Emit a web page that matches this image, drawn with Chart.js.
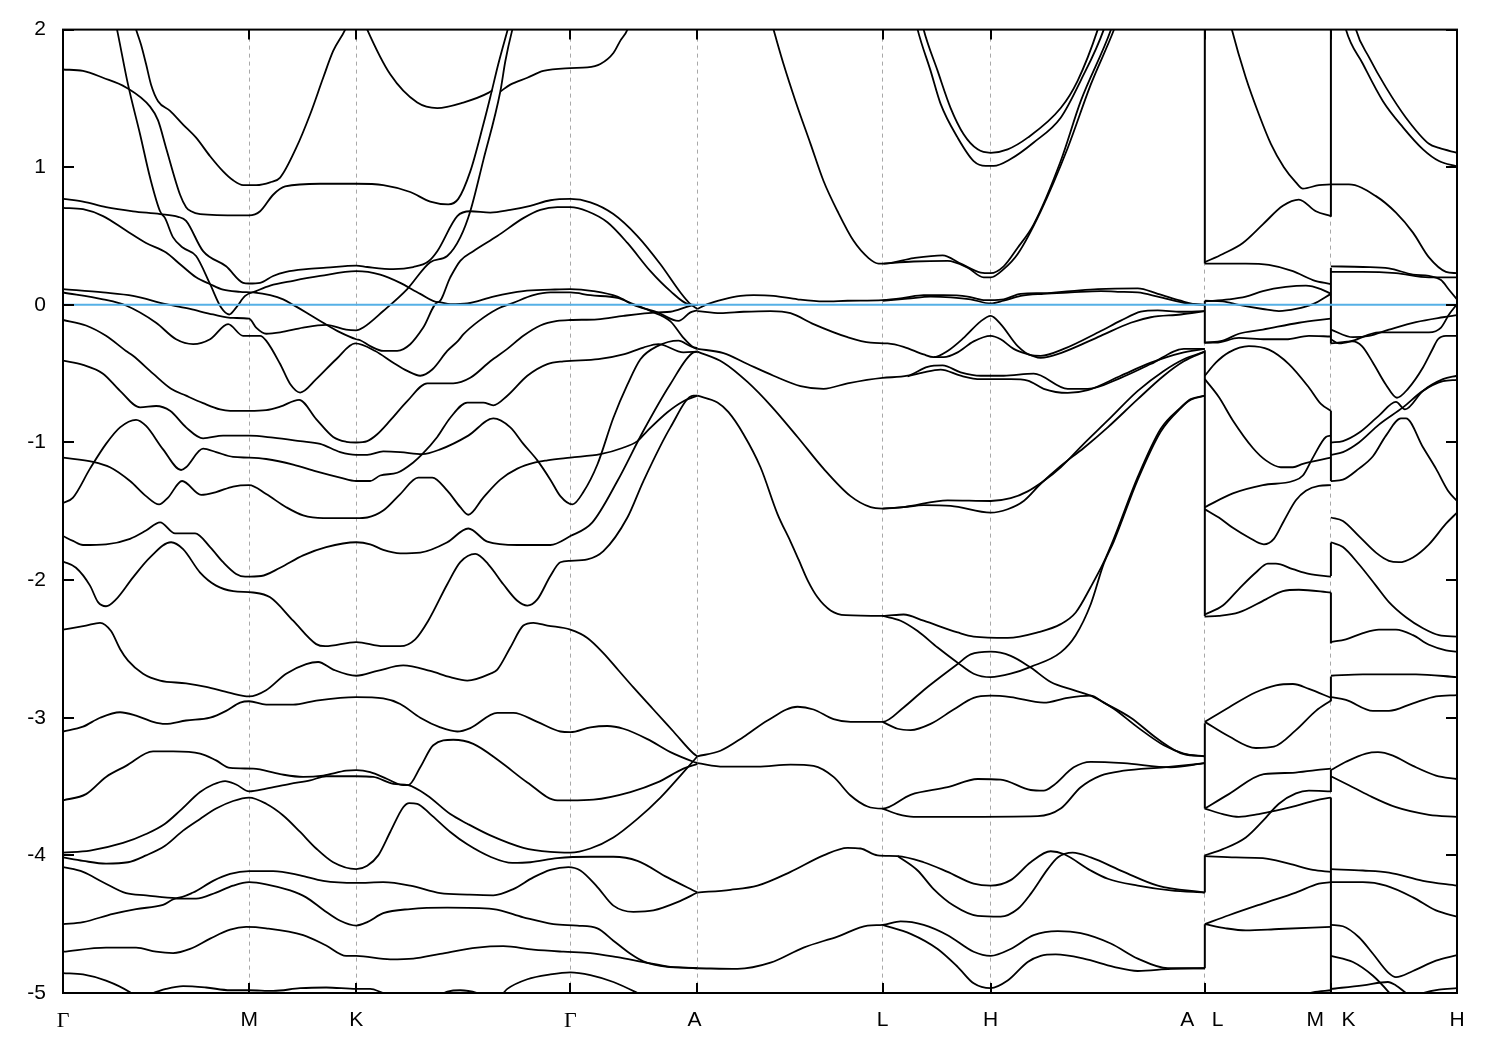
<!DOCTYPE html>
<html>
<head>
<meta charset="utf-8">
<title>Band structure</title>
<script src="https://cdn.jsdelivr.net/npm/chart.js@4"></script>
<style>
body { margin: 0; background: #fff; }
canvas { display: block; }
</style>
</head>
<body>
<canvas id="bandChart" width="1500" height="1050"></canvas>
<script>
// k-path ticks
const tickK = [0, 186, 293, 507, 634, 819, 927, 1141, 1267, 1393];
const tickNames = ['Γ', 'M', 'K', 'Γ', 'A ', 'L', 'H', 'A   L ', 'M   K', 'H'];
const energyTicks = [2, 1, 0, -1, -2, -3, -4, -5];
const fermiLine = [[0, 0], [1393, 0]];

// Γ - M - K - Γ - A, each point is [k, energy]
const gmkgA = [[0,1.71],[20,1.70],[40,1.65],[63,1.58],[87,1.44],[95,1.34],[103,1.14],[117,.80],[123,.71],[128,.68],[137,.66],[177,.65],[186,.65],[197,.68],[210,.80],[222,.86],[257,.88],[293,.88],[320,.87],[347,.82],[367,.75],[385,.73],[395,.77],[407,.97],[420,1.31],[427,1.51],[435,1.75],[444,1.99],[452,2.2]];
const gmkgB = [[65,2.2],[73,2.0],[78,1.89],[83,1.75],[88,1.60],[95,1.48],[107,1.41],[120,1.31],[133,1.215],[147,1.08],[160,.97],[170,.905],[180,.87],[193,.87],[207,.89],[217,.925],[233,1.14],[247,1.385],[260,1.65],[270,1.845],[282,2.0],[293,2.2],[304,2.0],[327,1.675],[354,1.47],[374,1.43],[400,1.47],[425,1.54],[429,1.56]];
const gmkgC = [[48,2.2],[54,2.0],[65,1.60],[77,1.24],[87,.925],[97,.68],[102,.63],[110,.49],[120,.415],[133,.355],[147,.15],[158,-.02],[166,-.07],[173,-.02],[182,.065],[193,.10],[207,.14],[230,.175],[257,.21],[293,.245],[317,.22],[337,.16],[357,.08],[375,.02],[387,.20],[397,.32],[410,.39],[434,.50],[460,.63],[477,.69],[494,.71],[507,.71],[524,.68],[544,.60],[564,.45],[587,.245],[607,.10],[625,.005],[634,0]];
const gmkgD = [[0,.77],[20,.75],[43,.71],[70,.68],[97,.66],[115,.64],[123,.61],[140,.39],[163,.28],[180,.16],[186,.155],[197,.16],[210,.21],[223,.24],[243,.26],[263,.27],[293,.285],[304,.275],[330,.26],[350,.275],[365,.315],[374,.39],[394,.645],[407,.68],[427,.67],[447,.69],[467,.72],[487,.76],[507,.77],[527,.745],[550,.66],[574,.50],[597,.295],[617,.09],[627,.005],[634,-.03]];
const gmkgE = [[0,.705],[20,.695],[40,.645],[63,.54],[83,.45],[103,.38],[117,.295],[133,.20],[147,.15],[160,.11],[177,.095],[190,.09],[207,.07],[220,.04],[230,0],[243,-.055],[260,-.13],[277,-.2],[293,-.25],[297,-.257],[307,-.30],[320,-.335],[334,-.334],[347,-.286],[360,-.165],[375,.02],[387,.005],[404,.01],[430,.06],[460,.10],[487,.11],[507,.115],[530,.10],[554,.06],[570,0],[594,-.055],[615,-.117],[627,-.055],[634,-.04]];
const gmkgF = [[0,.115],[40,.09],[70,.065],[103,.005],[127,-.03],[150,-.07],[170,-.095],[186,-.10],[193,-.165],[203,-.21],[217,-.20],[240,-.165],[263,-.145],[283,-.18],[293,-.185],[300,-.165],[320,-.045],[344,.115],[367,.31],[384,.355],[397,.49],[407,.68],[420,1.05],[437,1.55],[442,1.77],[449,2.0],[457,2.2]];
const gmkgG = [[0,.09],[40,.04],[63,-.005],[93,-.13],[113,-.25],[130,-.285],[147,-.25],[165,-.14],[180,-.225],[197,-.225],[203,-.26],[217,-.43],[227,-.575],[237,-.637],[253,-.54],[273,-.395],[292,-.28],[312,-.335],[330,-.42],[344,-.48],[357,-.515],[369,-.47],[384,-.335],[395,-.26],[400,-.215],[415,-.12],[434,-.03],[450,.015],[470,.07],[487,.09],[507,.09],[527,.07],[554,.05],[570,.005],[587,-.045],[607,-.12],[620,-.24],[630,-.31],[634,-.32]];
const gmkgH = [[0,-.11],[23,-.15],[43,-.225],[63,-.335],[70,-.37],[90,-.50],[108,-.61],[123,-.66],[140,-.714],[157,-.76],[167,-.77],[186,-.77],[203,-.765],[217,-.74],[236,-.69],[253,-.83],[270,-.96],[283,-.995],[293,-1.0],[304,-.99],[314,-.94],[327,-.84],[344,-.70],[364,-.57],[390,-.57],[407,-.53],[427,-.41],[444,-.32],[460,-.225],[477,-.15],[494,-.117],[507,-.11],[534,-.105],[560,-.08],[594,-.055],[607,-.05],[627,-.007],[634,0]];
const gmkgI = [[0,-.405],[20,-.436],[40,-.50],[57,-.625],[77,-.745],[93,-.735],[107,-.77],[123,-.89],[140,-.97],[160,-.95],[186,-.95],[210,-.965],[237,-.99],[257,-1.01],[277,-1.07],[293,-1.09],[304,-1.09],[320,-1.065],[337,-1.07],[359,-1.085],[377,-1.05],[405,-.95],[430,-.825],[447,-.89],[460,-1.01],[474,-1.13],[487,-1.27],[497,-1.39],[509,-1.45],[520,-1.36],[534,-1.16],[550,-.82],[564,-.58],[577,-.395],[594,-.30],[615,-.26],[627,-.30],[634,-.315]];
const gmkgJ = [[0,-1.11],[30,-1.14],[47,-1.18],[67,-1.28],[83,-1.39],[96,-1.45],[105,-1.40],[119,-1.28],[138,-1.38],[153,-1.36],[170,-1.32],[186,-1.31],[203,-1.375],[223,-1.47],[240,-1.53],[260,-1.55],[293,-1.55],[304,-1.545],[320,-1.495],[337,-1.375],[355,-1.255],[369,-1.255],[384,-1.35],[397,-1.47],[405,-1.525],[420,-1.40],[437,-1.27],[454,-1.19],[472,-1.145],[484,-1.13],[507,-1.11],[537,-1.085],[559,-1.04],[574,-.99],[584,-.915],[604,-.78],[620,-.70],[634,-.66]];
const gmkgK = [[0,-1.44],[10,-1.40],[27,-1.19],[43,-1.01],[57,-.89],[73,-.835],[83,-.88],[100,-1.05],[118,-1.20],[123,-1.18],[140,-1.045],[153,-1.07],[170,-1.105],[186,-1.11],[203,-1.12],[230,-1.16],[253,-1.21],[277,-1.255],[293,-1.28],[307,-1.28],[317,-1.24],[334,-1.22],[350,-1.145],[359,-1.085],[374,-.96],[387,-.82],[404,-.71],[420,-.71],[430,-.73],[444,-.66],[464,-.515],[484,-.43],[500,-.41],[535,-.395],[560,-.36],[580,-.31],[595,-.285],[620,-.345],[634,-.34]];
const gmkgL = [[0,-1.68],[10,-1.715],[20,-1.745],[43,-1.74],[67,-1.70],[83,-1.64],[97,-1.58],[112,-1.66],[132,-1.66],[147,-1.76],[160,-1.87],[173,-1.955],[182,-1.975],[198,-1.97],[217,-1.91],[240,-1.82],[263,-1.76],[293,-1.725],[307,-1.74],[320,-1.78],[337,-1.805],[357,-1.80],[384,-1.725],[405,-1.625],[424,-1.72],[454,-1.745],[487,-1.745],[507,-1.68],[529,-1.58],[554,-1.28],[580,-.915],[607,-.575],[630,-.345],[634,-.34]];
const gmkgM = [[0,-1.865],[13,-1.91],[27,-2.04],[35,-2.16],[43,-2.19],[53,-2.14],[70,-1.98],[87,-1.835],[108,-1.725],[120,-1.775],[137,-1.945],[153,-2.04],[170,-2.08],[190,-2.09],[207,-2.125],[230,-2.295],[253,-2.465],[262,-2.48],[293,-2.45],[320,-2.48],[337,-2.48],[352,-2.43],[365,-2.295],[384,-2.03],[397,-1.87],[412,-1.81],[425,-1.885],[440,-2.03],[454,-2.15],[464,-2.185],[474,-2.14],[487,-1.97],[497,-1.87],[507,-1.86],[524,-1.85],[540,-1.79],[564,-1.545],[580,-1.28],[607,-.89],[630,-.66],[634,-.66]];
const gmkgN = [[0,-2.36],[23,-2.33],[37,-2.31],[48,-2.37],[57,-2.50],[65,-2.585],[80,-2.68],[97,-2.73],[123,-2.75],[143,-2.775],[167,-2.82],[186,-2.845],[203,-2.80],[223,-2.68],[243,-2.61],[255,-2.595],[270,-2.65],[293,-2.695],[314,-2.66],[340,-2.62],[367,-2.66],[387,-2.705],[404,-2.73],[427,-2.68],[434,-2.65],[447,-2.49],[460,-2.33],[470,-2.31],[484,-2.33],[507,-2.36],[524,-2.42],[540,-2.53],[555,-2.655],[570,-2.78],[590,-2.94],[610,-3.10],[630,-3.26],[634,-3.28]];
const gmkgO = [[0,-3.10],[20,-3.065],[37,-3.0],[57,-2.96],[73,-2.985],[90,-3.03],[102,-3.045],[123,-3.02],[147,-3.0],[163,-2.95],[177,-2.89],[186,-2.88],[203,-2.905],[230,-2.905],[253,-2.875],[277,-2.855],[293,-2.85],[320,-2.86],[337,-2.90],[357,-3.0],[377,-3.07],[394,-3.10],[407,-3.075],[434,-2.965],[450,-2.965],[474,-3.03],[497,-3.10],[507,-3.105],[527,-3.07],[544,-3.06],[560,-3.08],[584,-3.155],[607,-3.25],[630,-3.32],[634,-3.33]];
const gmkgP = [[0,-3.60],[23,-3.555],[43,-3.43],[63,-3.35],[90,-3.245],[110,-3.245],[137,-3.26],[153,-3.31],[167,-3.365],[190,-3.37],[217,-3.41],[240,-3.43],[260,-3.42],[283,-3.385],[293,-3.38],[307,-3.395],[324,-3.445],[340,-3.49],[345,-3.49],[357,-3.36],[370,-3.20],[390,-3.16],[410,-3.19],[437,-3.32],[464,-3.47],[494,-3.60],[507,-3.60],[530,-3.595],[567,-3.54],[594,-3.47],[620,-3.37],[634,-3.335]];
const gmkgQ = [[0,-3.98],[27,-3.965],[60,-3.91],[83,-3.845],[102,-3.77],[117,-3.675],[137,-3.54],[150,-3.485],[162,-3.46],[173,-3.485],[186,-3.535],[203,-3.515],[227,-3.48],[247,-3.455],[263,-3.425],[293,-3.425],[310,-3.43],[330,-3.48],[345,-3.49],[364,-3.565],[387,-3.70],[404,-3.77],[427,-3.855],[460,-3.945],[487,-3.975],[507,-3.98],[527,-3.95],[550,-3.87],[574,-3.735],[597,-3.58],[617,-3.42],[634,-3.28]];
const gmkgR = [[0,-4.015],[20,-4.04],[43,-4.06],[65,-4.05],[83,-4.0],[102,-3.93],[120,-3.82],[137,-3.735],[153,-3.66],[170,-3.605],[186,-3.58],[203,-3.625],[220,-3.71],[237,-3.83],[253,-3.95],[270,-4.05],[293,-4.10],[304,-4.075],[315,-4.0],[327,-3.83],[340,-3.65],[346,-3.62],[354,-3.625],[367,-3.70],[387,-3.83],[404,-3.92],[427,-4.01],[449,-4.055],[467,-4.05],[494,-4.02],[527,-4.01],[550,-4.01],[574,-4.04],[604,-4.16],[634,-4.27]];
const gmkgS = [[0,-4.085],[20,-4.12],[40,-4.195],[63,-4.275],[83,-4.29],[113,-4.31],[130,-4.27],[150,-4.185],[167,-4.135],[186,-4.115],[210,-4.115],[237,-4.145],[260,-4.185],[293,-4.20],[320,-4.195],[347,-4.22],[377,-4.275],[404,-4.285],[430,-4.29],[450,-4.245],[470,-4.16],[487,-4.105],[505,-4.085],[517,-4.11],[534,-4.23],[550,-4.365],[570,-4.41],[590,-4.40],[614,-4.34],[634,-4.27]];
const gmkgT = [[0,-4.50],[20,-4.485],[50,-4.425],[73,-4.39],[100,-4.36],[113,-4.315],[133,-4.315],[153,-4.27],[170,-4.22],[186,-4.195],[203,-4.21],[227,-4.255],[243,-4.305],[260,-4.395],[277,-4.475],[293,-4.51],[304,-4.485],[320,-4.42],[347,-4.39],[384,-4.38],[430,-4.39],[460,-4.45],[490,-4.50],[514,-4.51],[534,-4.53],[550,-4.62],[567,-4.715],[580,-4.77],[604,-4.81],[620,-4.815],[634,-4.82]];
const gmkgU = [[0,-4.70],[43,-4.67],[73,-4.67],[93,-4.70],[110,-4.71],[127,-4.68],[147,-4.605],[167,-4.54],[183,-4.52],[203,-4.53],[240,-4.58],[263,-4.655],[283,-4.73],[293,-4.73],[327,-4.755],[350,-4.75],[377,-4.715],[414,-4.67],[440,-4.66],[470,-4.685],[500,-4.70],[527,-4.71],[554,-4.74],[580,-4.775],[607,-4.81],[634,-4.82]];
const gmkgV = [[0,-4.855],[20,-4.865],[43,-4.91],[67,-4.995],[73,-5.03],[90,-5.0],[103,-4.97],[120,-4.95],[143,-4.96],[167,-4.98],[186,-4.98],[210,-4.985],[237,-4.965],[263,-4.96],[293,-4.97],[307,-4.97],[320,-5.0],[330,-5.02],[374,-5.02],[384,-4.99],[397,-4.98],[414,-5.0],[424,-5.03],[437,-5.02],[444,-4.97],[464,-4.90],[487,-4.865],[507,-4.85],[527,-4.87],[550,-4.92],[574,-5.0],[587,-5.05]];
const gmkgW = [[437,1.55],[447,1.60],[464,1.65],[480,1.70],[507,1.72],[524,1.725],[537,1.75],[550,1.83],[557,1.92],[564,2.0],[572,2.2]];

// A - L - H - A
const alhaA = [[702,2.2],[710,2.0],[720,1.75],[732,1.48],[747,1.17],[760,.90],[774,.68],[790,.465],[805,.34],[815,.30],[820,.30],[850,.34],[879,.36],[897,.30],[917,.235],[927,.23],[940,.28],[954,.415],[970,.585],[997,1.045],[1017,1.48],[1047,1.995],[1056,2.2]];
const alhaB = [[820,.30],[850,.315],[884,.32],[904,.27],[920,.20],[927,.20],[940,.26],[954,.37],[977,.68],[1004,1.14],[1027,1.60],[1050,1.995],[1060,2.2]];
const alhaC = [[848,2.2],[854,2.0],[867,1.70],[877,1.46],[894,1.215],[910,1.045],[922,1.01],[930,1.01],[947,1.06],[970,1.18],[997,1.36],[1017,1.63],[1040,2.0],[1048,2.2]];
const alhaD = [[854,2.2],[860,2.0],[874,1.70],[887,1.43],[900,1.24],[914,1.13],[927,1.105],[944,1.13],[964,1.215],[997,1.43],[1014,1.63],[1034,2.0],[1042,2.2]];
const alhaE = [[634,-.03],[644,.005],[660,.04],[677,.065],[690,.07],[710,.065],[734,.04],[760,.025],[784,.03],[819,.035],[840,.05],[860,.07],[880,.07],[904,.06],[920,.035],[927,.035],[940,.04],[957,.08],[980,.085],[1007,.10],[1034,.115],[1074,.12],[1094,.08],[1117,.03],[1130,.005],[1141,0]];
const alhaF = [[819,.03],[844,.045],[867,.06],[887,.055],[907,.04],[927,.01],[940,.03],[957,.065],[980,.08],[1007,.09],[1037,.10],[1054,.095],[1074,.09],[1094,.06],[1120,.015],[1141,0]];
const alhaG = [[634,-.045],[657,-.06],[680,-.05],[707,-.045],[727,-.06],[750,-.14],[784,-.235],[807,-.275],[824,-.28],[840,-.305],[860,-.36],[870,-.38],[884,-.335],[900,-.24],[917,-.12],[927,-.08],[937,-.14],[954,-.30],[967,-.365],[977,-.37],[1000,-.32],[1037,-.19],[1057,-.115],[1077,-.05],[1094,-.04],[1117,-.05],[1141,-.045]];
const alhaH = [[870,-.38],[880,-.38],[894,-.345],[910,-.265],[927,-.225],[937,-.25],[950,-.32],[967,-.365],[977,-.385],[997,-.35],[1037,-.225],[1067,-.13],[1087,-.09],[1117,-.07],[1141,-.045]];
const alhaI = [[634,-.32],[660,-.35],[684,-.43],[710,-.515],[737,-.59],[760,-.61],[784,-.57],[819,-.53],[844,-.515],[864,-.45],[879,-.44],[897,-.49],[917,-.515],[940,-.515],[970,-.50],[1004,-.61],[1024,-.61],[1057,-.53],[1087,-.43],[1120,-.32],[1141,-.32]];
const alhaJ = [[844,-.52],[860,-.49],[877,-.47],[897,-.515],[917,-.54],[947,-.54],[964,-.55],[980,-.61],[1004,-.64],[1024,-.62],[1057,-.515],[1087,-.42],[1117,-.35],[1141,-.32]];
const alhaK = [[634,-.34],[660,-.42],[684,-.56],[707,-.73],[734,-.96],[760,-1.19],[787,-1.39],[807,-1.47],[819,-1.48],[840,-1.47],[884,-1.42],[927,-1.425],[947,-1.405],[964,-1.355],[980,-1.28],[997,-1.18],[1020,-1.01],[1044,-.84],[1074,-.625],[1100,-.48],[1120,-.395],[1141,-.34]];
const alhaL = [[819,-1.48],[840,-1.47],[860,-1.455],[887,-1.46],[927,-1.51],[944,-1.485],[960,-1.425],[977,-1.30],[997,-1.17],[1020,-1.04],[1044,-.89],[1074,-.685],[1100,-.515],[1120,-.41],[1141,-.34]];
const alhaM = [[634,-.66],[654,-.71],[665,-.78],[680,-.94],[697,-1.18],[714,-1.52],[727,-1.72],[735,-1.85],[744,-2.0],[754,-2.125],[767,-2.22],[782,-2.255],[819,-2.26],[840,-2.25],[860,-2.295],[894,-2.38],[910,-2.41],[944,-2.42],[974,-2.38],[997,-2.32],[1012,-2.235],[1027,-2.05],[1040,-1.87],[1050,-1.70],[1074,-1.25],[1097,-.90],[1117,-.745],[1127,-.685],[1141,-.66]];
const alhaN = [[819,-2.26],[837,-2.295],[854,-2.37],[874,-2.49],[894,-2.60],[910,-2.68],[927,-2.705],[947,-2.68],[967,-2.63],[997,-2.525],[1012,-2.40],[1027,-2.175],[1040,-1.88],[1050,-1.72],[1074,-1.27],[1097,-.92],[1117,-.75],[1127,-.69],[1141,-.66]];
const alhaO = [[634,-3.28],[657,-3.24],[680,-3.14],[704,-3.02],[734,-2.92],[750,-2.94],[770,-3.01],[787,-3.03],[819,-3.03],[840,-2.925],[860,-2.80],[894,-2.61],[907,-2.54],[927,-2.52],[947,-2.55],[967,-2.635],[987,-2.74],[1010,-2.80],[1030,-2.85],[1050,-2.935],[1074,-3.07],[1100,-3.20],[1120,-3.26],[1141,-3.28]];
const alhaP = [[819,-3.03],[834,-3.08],[847,-3.09],[867,-3.045],[890,-2.94],[910,-2.855],[927,-2.84],[947,-2.85],[980,-2.89],[1004,-2.855],[1027,-2.84],[1040,-2.89],[1067,-3.0],[1094,-3.155],[1120,-3.265],[1141,-3.28]];
const alhaQ = [[634,-3.33],[660,-3.355],[694,-3.355],[727,-3.34],[750,-3.35],[770,-3.43],[787,-3.565],[804,-3.645],[819,-3.66],[847,-3.56],[884,-3.505],[914,-3.445],[937,-3.45],[967,-3.525],[980,-3.53],[990,-3.49],[1010,-3.36],[1027,-3.32],[1060,-3.33],[1107,-3.36],[1141,-3.33]];
const alhaR = [[819,-3.66],[834,-3.70],[850,-3.72],[894,-3.72],[974,-3.715],[997,-3.66],[1017,-3.505],[1037,-3.42],[1060,-3.385],[1100,-3.36],[1141,-3.33]];
const alhaS = [[634,-4.27],[667,-4.25],[694,-4.22],[727,-4.12],[760,-4.0],[784,-3.945],[797,-3.95],[814,-4.0],[834,-4.005],[860,-4.05],[884,-4.12],[910,-4.205],[927,-4.22],[947,-4.18],[967,-4.05],[987,-3.97],[1000,-3.99],[1027,-4.11],[1044,-4.17],[1074,-4.22],[1107,-4.255],[1141,-4.27]];
const alhaT = [[834,-4.005],[854,-4.11],[870,-4.245],[890,-4.365],[914,-4.44],[937,-4.445],[954,-4.39],[967,-4.28],[984,-4.10],[994,-4.015],[1009,-3.98],[1027,-4.015],[1060,-4.12],[1094,-4.22],[1141,-4.27]];
const alhaU = [[634,-4.82],[674,-4.825],[707,-4.78],[740,-4.67],[774,-4.59],[804,-4.51],[819,-4.505],[837,-4.48],[860,-4.505],[884,-4.58],[910,-4.70],[927,-4.73],[947,-4.68],[970,-4.58],[994,-4.55],[1017,-4.565],[1047,-4.64],[1074,-4.75],[1104,-4.82],[1141,-4.82]];
const alhaV = [[819,-4.505],[847,-4.57],[874,-4.68],[894,-4.81],[910,-4.93],[927,-4.965],[944,-4.91],[964,-4.775],[977,-4.73],[992,-4.72],[1020,-4.75],[1050,-4.81],[1074,-4.84],[1107,-4.825],[1141,-4.82]];

// L - M
const lmA = [[1160,2.25],[1168,2.0],[1182,1.65],[1195,1.385],[1207,1.17],[1220,1.0],[1232,.89],[1239,.845],[1255,.87],[1267,.875]];
const lmB = [[1141,.31],[1159,.37],[1179,.45],[1199,.585],[1219,.72],[1235,.765],[1252,.68],[1267,.645]];
const lmC = [[1141,.30],[1182,.30],[1205,.29],[1229,.245],[1249,.18],[1267,.15]];
const lmD = [[1141,.025],[1165,.04],[1182,.06],[1199,.10],[1222,.13],[1242,.14],[1257,.115],[1267,.08]];
const lmE = [[1141,.03],[1159,.025],[1175,0],[1199,-.03],[1215,-.045],[1232,-.03],[1249,.005],[1267,.08]];
const lmF = [[1141,-.275],[1159,-.26],[1175,-.21],[1199,-.18],[1235,-.13],[1267,-.10]];
const lmG = [[1141,-.275],[1152,-.275],[1175,-.24],[1202,-.25],[1222,-.25],[1245,-.225],[1267,-.23]];
const lmH = [[1141,-.515],[1152,-.42],[1165,-.345],[1185,-.30],[1205,-.325],[1225,-.43],[1245,-.60],[1257,-.72],[1267,-.77]];
const lmI = [[1141,-.54],[1155,-.67],[1169,-.84],[1189,-1.04],[1202,-1.13],[1217,-1.18],[1229,-1.18],[1239,-1.155],[1267,-1.11]];
const lmJ = [[1141,-1.47],[1169,-1.37],[1199,-1.31],[1229,-1.28],[1239,-1.24],[1249,-1.11],[1262,-.96],[1267,-.95]];
const lmK = [[1141,-1.485],[1155,-1.545],[1169,-1.62],[1185,-1.69],[1200,-1.74],[1210,-1.70],[1220,-1.57],[1232,-1.42],[1242,-1.35],[1255,-1.315],[1267,-1.31]];
const lmL = [[1141,-2.25],[1159,-2.185],[1175,-2.065],[1192,-1.945],[1204,-1.88],[1212,-1.88],[1229,-1.92],[1245,-1.955],[1267,-1.975]];
const lmM = [[1141,-2.265],[1155,-2.26],[1175,-2.235],[1202,-2.14],[1219,-2.08],[1235,-2.07],[1267,-2.09]];
const lmN = [[1141,-3.03],[1165,-2.925],[1192,-2.815],[1212,-2.765],[1229,-2.755],[1245,-2.79],[1267,-2.855]];
const lmO = [[1141,-3.03],[1165,-3.135],[1192,-3.22],[1210,-3.21],[1232,-3.09],[1252,-2.95],[1267,-2.875]];
const lmP = [[1141,-3.66],[1165,-3.555],[1200,-3.41],[1229,-3.40],[1252,-3.38],[1267,-3.37]];
const lmQ = [[1141,-3.66],[1159,-3.70],[1175,-3.72],[1195,-3.70],[1212,-3.675],[1232,-3.64],[1252,-3.60],[1267,-3.58]];
const lmR = [[1141,-4.0],[1159,-3.955],[1182,-3.87],[1199,-3.75],[1215,-3.625],[1232,-3.55],[1245,-3.53],[1267,-3.535]];
const lmS = [[1141,-4.005],[1172,-4.015],[1199,-4.02],[1225,-4.06],[1249,-4.105],[1267,-4.12]];
const lmT = [[1141,-4.50],[1165,-4.435],[1199,-4.35],[1232,-4.27],[1255,-4.205],[1267,-4.195]];
const lmU = [[1141,-4.50],[1162,-4.53],[1182,-4.545],[1215,-4.535],[1267,-4.52]];
const lmV = [[1235,-5.03],[1249,-4.995],[1267,-4.98]];

// K - H
const khA = [[1275,2.25],[1282,2.0],[1299,1.75],[1319,1.48],[1339,1.29],[1359,1.13],[1375,1.045],[1393,1.005]];
const khB = [[1285,2.25],[1292,2.0],[1305,1.80],[1322,1.58],[1342,1.36],[1365,1.17],[1375,1.14],[1393,1.105]];
const khC = [[1267,.875],[1285,.875],[1312,.79],[1332,.67],[1349,.525],[1365,.345],[1382,.24],[1393,.23]];
const khD = [[1267,.28],[1299,.275],[1325,.265],[1349,.22],[1365,.21],[1377,.18],[1385,.11],[1393,.04]];
const khE = [[1267,.24],[1299,.24],[1332,.23],[1365,.20],[1393,.20]];
const khF = [[1267,-.18],[1289,-.235],[1305,-.225],[1325,-.18],[1352,-.125],[1379,-.09],[1393,-.075]];
const khG = [[1267,-.25],[1275,-.28],[1289,-.26],[1315,-.20],[1342,-.20],[1365,-.20],[1377,-.165],[1385,-.07],[1393,.005]];
const khH = [[1267,-.28],[1289,-.265],[1298,-.30],[1309,-.42],[1322,-.58],[1333,-.675],[1344,-.61],[1359,-.455],[1368,-.33],[1374,-.25],[1382,-.225],[1393,-.225]];
const khI = [[1267,-1.0],[1279,-.99],[1295,-.93],[1315,-.805],[1332,-.705],[1341,-.76],[1359,-.625],[1379,-.54],[1393,-.515]];
const khJ = [[1267,-1.09],[1279,-1.07],[1295,-1.0],[1315,-.87],[1339,-.745],[1359,-.625],[1379,-.555],[1393,-.545]];
const khK = [[1267,-1.28],[1279,-1.27],[1295,-1.19],[1309,-1.10],[1322,-.95],[1337,-.825],[1342,-.825],[1359,-1.035],[1372,-1.19],[1384,-1.35],[1393,-1.425]];
const khL = [[1267,-1.545],[1279,-1.57],[1295,-1.68],[1312,-1.80],[1325,-1.86],[1335,-1.87],[1349,-1.835],[1365,-1.74],[1382,-1.59],[1393,-1.51]];
const khM = [[1267,-1.725],[1279,-1.76],[1295,-1.885],[1312,-2.04],[1325,-2.16],[1342,-2.27],[1359,-2.35],[1375,-2.40],[1393,-2.41]];
const khN = [[1267,-2.45],[1282,-2.43],[1299,-2.385],[1315,-2.36],[1332,-2.36],[1349,-2.40],[1365,-2.47],[1382,-2.51],[1393,-2.52]];
const khO = [[1267,-2.695],[1299,-2.685],[1352,-2.685],[1393,-2.705]];
const khP = [[1267,-2.85],[1282,-2.87],[1309,-2.95],[1325,-2.95],[1349,-2.895],[1372,-2.845],[1393,-2.835]];
const khQ = [[1267,-3.38],[1282,-3.32],[1302,-3.26],[1314,-3.25],[1329,-3.275],[1349,-3.35],[1372,-3.42],[1393,-3.445]];
const khR = [[1267,-3.425],[1285,-3.49],[1305,-3.565],[1332,-3.65],[1365,-3.705],[1393,-3.72]];
const khS = [[1267,-4.10],[1299,-4.11],[1325,-4.125],[1359,-4.185],[1393,-4.22]];
const khT = [[1267,-4.195],[1299,-4.195],[1322,-4.22],[1349,-4.305],[1372,-4.40],[1393,-4.445]];
const khU = [[1267,-4.505],[1279,-4.515],[1295,-4.595],[1309,-4.715],[1324,-4.85],[1332,-4.885],[1349,-4.84],[1372,-4.765],[1393,-4.725]];
const khV = [[1267,-4.73],[1289,-4.775],[1309,-4.875],[1325,-4.995],[1329,-5.03]];
const khW = [[1267,-4.97],[1299,-4.945],[1324,-4.92],[1332,-4.945],[1342,-5.0],[1349,-5.03],[1359,-5.0],[1375,-4.975],[1393,-4.965]];

// Jumps where the path breaks, [k, energy from, energy to]
const jumpsAL = [[1141,2.2,.30],[1141,.03,-.28],[1141,-.33,-2.26],[1141,-3.04,-3.66],[1141,-4.0,-4.27],[1141,-4.50,-4.82]];
const jumpsMK = [[1267,2.2,.64],[1267,.27,-.28],[1267,-.77,-1.28],[1267,-1.73,-1.97],[1267,-2.09,-2.46],[1267,-2.70,-2.88],[1267,-3.38,-3.54],[1267,-3.58,-5.1]];

const bands = [
    gmkgA, gmkgB, gmkgC, gmkgD, gmkgE, gmkgF, gmkgG, gmkgH, gmkgI, gmkgJ, gmkgK, gmkgL,
    gmkgM, gmkgN, gmkgO, gmkgP, gmkgQ, gmkgR, gmkgS, gmkgT, gmkgU, gmkgV, gmkgW,
    alhaA, alhaB, alhaC, alhaD, alhaE, alhaF, alhaG, alhaH, alhaI, alhaJ, alhaK, alhaL,
    alhaM, alhaN, alhaO, alhaP, alhaQ, alhaR, alhaS, alhaT, alhaU, alhaV,
    lmA, lmB, lmC, lmD, lmE, lmF, lmG, lmH, lmI, lmJ, lmK, lmL, lmM, lmN, lmO, lmP, lmQ, lmR, lmS, lmT, lmU, lmV,
    khA, khB, khC, khD, khE, khF, khG, khH, khI, khJ, khK, khL, khM, khN, khO, khP, khQ, khR, khS, khT, khU, khV, khW
];

const toPoints = (pairs) => pairs.map(([x, y]) => ({ x, y }));

const bandSets = bands.map((band) => ({
    data: toPoints(band),
    borderColor: '#000',
    borderWidth: 1.8,
    pointRadius: 0,
    showLine: true,
    cubicInterpolationMode: 'monotone'
}));

const jumpSets = jumpsAL.concat(jumpsMK).map(([k, from, to]) => ({
    data: [{ x: k, y: from }, { x: k, y: to }],
    borderColor: '#000',
    borderWidth: 2,
    pointRadius: 0,
    showLine: true
}));

// frame and inward ticks, gnuplot style
const framePlugin = {
    id: 'frame',
    afterDraw(chart) {
        const { ctx, chartArea: a, scales } = chart;
        ctx.save();
        ctx.strokeStyle = '#000';
        ctx.lineWidth = 2;
        ctx.beginPath();
        scales.x.ticks.forEach((t) => {
            const px = Math.round(scales.x.getPixelForValue(t.value));
            ctx.moveTo(px, a.bottom);
            ctx.lineTo(px, a.bottom - 10);
            ctx.moveTo(px, a.top);
            ctx.lineTo(px, a.top + 10);
        });
        scales.y.ticks.forEach((t) => {
            const py = Math.round(scales.y.getPixelForValue(t.value));
            ctx.moveTo(a.left, py);
            ctx.lineTo(a.left + 11, py);
            ctx.moveTo(a.right, py);
            ctx.lineTo(a.right - 11, py);
        });
        ctx.stroke();
        ctx.strokeRect(a.left, a.top, a.right - a.left, a.bottom - a.top);
        ctx.restore();
    }
};

const ctx = document.getElementById('bandChart').getContext('2d');
const bandChart = new Chart(ctx, {
    type: 'scatter',
    data: {
        datasets: [
            {
                data: toPoints(fermiLine),
                borderColor: '#56B0E6',
                borderWidth: 2,
                pointRadius: 0,
                showLine: true
            },
            ...bandSets,
            ...jumpSets
        ]
    },
    options: {
        responsive: false,
        animation: false,
        devicePixelRatio: 1,
        layout: { padding: { top: 28, right: 43, left: 0, bottom: 0 } },
        plugins: { legend: { display: false }, tooltip: { enabled: false } },
        scales: {
            x: {
                type: 'linear',
                min: 0,
                max: 1393,
                afterFit: (scale) => { scale.height = 57; },
                afterBuildTicks: (scale) => { scale.ticks = tickK.map((value) => ({ value })); },
                border: { display: false, dash: [4, 4] },
                grid: { color: '#a8a8a8', lineWidth: 1, drawTicks: false },
                ticks: {
                    autoSkip: false,
                    maxRotation: 0,
                    minRotation: 0,
                    padding: 15,
                    color: '#000',
                    font: (c) => (c.tick && c.tick.label === 'Γ'
                        ? { family: '"Liberation Serif"', size: 22 }
                        : { family: '"Liberation Sans"', size: 21 }),
                    callback: (value) => tickNames[tickK.indexOf(value)]
                }
            },
            y: {
                type: 'linear',
                min: -5,
                max: 2,
                afterFit: (scale) => { scale.width = 63; },
                afterBuildTicks: (scale) => { scale.ticks = energyTicks.map((value) => ({ value })); },
                border: { display: false },
                grid: { display: false, drawTicks: false },
                ticks: {
                    padding: 17,
                    color: '#000',
                    font: { family: '"Liberation Sans"', size: 21 },
                    callback: (value) => String(value)
                }
            }
        }
    },
    plugins: [framePlugin]
});
</script>
</body>
</html>
